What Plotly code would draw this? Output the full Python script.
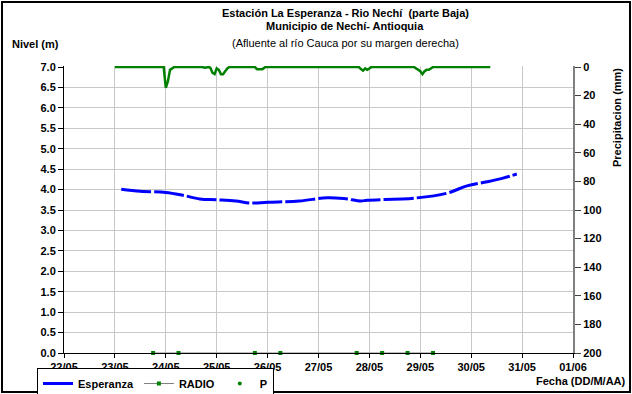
import plotly.graph_objects as go

# ---------------- data ----------------
esp_time = ["2011-05-23 03:00", "2011-05-23 12:00", "2011-05-24 00:00", "2011-05-24 08:00",
            "2011-05-24 16:00", "2011-05-25 00:00", "2011-05-25 09:00", "2011-05-25 16:00",
            "2011-05-26 00:00", "2011-05-26 15:00", "2011-05-27 04:00", "2011-05-27 12:00",
            "2011-05-27 20:00", "2011-05-27 23:00", "2011-05-28 21:00", "2011-05-29 12:30",
            "2011-05-29 22:00", "2011-05-30 07:30", "2011-05-30 15:00", "2011-05-30 21:30"]
esp_level = [4.01, 3.96, 3.93, 3.86, 3.77, 3.75, 3.72, 3.67, 3.69, 3.72, 3.80, 3.78,
             3.72, 3.74, 3.79, 3.91, 4.09, 4.19, 4.28, 4.38]

radio_time = ["2011-05-23 18:00", "2011-05-24 06:00", "2011-05-25 18:00", "2011-05-26 06:00",
              "2011-05-27 18:00", "2011-05-28 06:00", "2011-05-28 18:00", "2011-05-29 06:00"]
radio_val = [0, 0, 0, 0, 0, 0, 0, 0]

p_time = ["2011-05-23 00:00", "2011-05-23 23:00", "2011-05-24 00:00", "2011-05-24 01:00",
          "2011-05-24 02:00", "2011-05-24 03:00", "2011-05-24 04:00", "2011-05-24 17:00",
          "2011-05-24 18:30", "2011-05-24 20:00", "2011-05-24 21:00", "2011-05-24 22:00",
          "2011-05-24 23:00", "2011-05-25 00:00", "2011-05-25 01:00", "2011-05-25 02:00",
          "2011-05-25 03:00", "2011-05-25 04:00", "2011-05-25 05:00", "2011-05-25 06:00",
          "2011-05-25 18:00", "2011-05-25 19:00", "2011-05-25 21:30", "2011-05-25 23:00",
          "2011-05-27 19:00", "2011-05-27 20:00", "2011-05-27 21:00", "2011-05-27 22:00",
          "2011-05-27 23:00", "2011-05-28 00:00", "2011-05-28 01:00", "2011-05-28 21:00",
          "2011-05-28 22:00", "2011-05-28 23:00", "2011-05-29 00:00", "2011-05-29 01:00",
          "2011-05-29 02:00", "2011-05-29 03:00", "2011-05-29 04:00", "2011-05-29 05:00",
          "2011-05-29 06:00", "2011-05-30 09:00"]
p_mm = [0, 0, 14.5, 10, 2, 1, 0, 0,
        0.5, 0, 0.5, 4,
        5, 1, 2, 5,
        5, 3, 1, 0,
        0, 1.5, 1.5, 0,
        0, 1.5, 2.5, 1,
        2, 1, 0, 0,
        1, 2, 3, 5,
        3, 2, 2, 1,
        0, 0]

x_ticks = ["2011-05-22", "2011-05-23", "2011-05-24", "2011-05-25", "2011-05-26", "2011-05-27",
           "2011-05-28", "2011-05-29", "2011-05-30", "2011-05-31", "2011-06-01"]
x_labels = ["22/05", "23/05", "24/05", "25/05", "26/05", "27/05", "28/05", "29/05", "30/05", "31/05", "01/06"]

# ---------------- figure ----------------
W, H = 632, 394
L, R, T, B = 64, 59, 66, 41
PW, PH = W - L - R, H - T - B
FONT = "Liberation Sans, Arial, sans-serif"


def px(x):
    return (x - L) / PW


def py(y):
    return (H - B - y) / PH


fig = go.Figure()

fig.add_trace(go.Scatter(x=esp_time, y=esp_level, name="Esperanza", mode="lines",
                         line=dict(color="#0000ff", width=3, shape="spline", dash="30px,3px")))
fig.add_trace(go.Scatter(x=radio_time, y=radio_val, name="RADIO", mode="lines+markers",
                         line=dict(color="#808080", width=1),
                         marker=dict(color="#008000", size=4, symbol="square"), cliponaxis=False))
fig.add_trace(go.Scatter(x=p_time, y=p_mm, name="P", mode="lines", yaxis="y2",
                         line=dict(color="#008000", width=2.5), showlegend=False))
fig.add_trace(go.Scatter(x=[None], y=[None], name="P", mode="markers", yaxis="y2",
                         marker=dict(color="#008000", size=4)))

axis_font = dict(family=FONT, size=11, color="black", weight="bold")

fig.update_layout(
    width=W, height=H,
    margin=dict(l=L, r=R, t=T, b=B, pad=0, autoexpand=False),
    paper_bgcolor="white", plot_bgcolor="white",
    font=dict(family=FONT, size=11, color="black"),
    xaxis=dict(type="date", range=["2011-05-22", "2011-06-01"], tickvals=x_ticks, ticktext=x_labels,
               showgrid=True, gridcolor="#c8c8c8", gridwidth=1, showline=True, linecolor="black",
               linewidth=1, ticks="outside", ticklen=4, tickcolor="black", tickfont=axis_font,
               zeroline=False, automargin=False),
    yaxis=dict(range=[0, 7.0245], tickvals=[i * 0.5 for i in range(15)],
               ticktext=[f"{i*0.5:.1f}" for i in range(15)],
               showgrid=True, gridcolor="#c8c8c8", gridwidth=1, showline=True, linecolor="black",
               linewidth=1, ticks="outside", ticklen=5, tickcolor="black", tickfont=axis_font,
               zeroline=False, automargin=False),
    yaxis2=dict(overlaying="y", side="right", range=[200, -0.7], tickvals=list(range(0, 201, 20)),
                showgrid=False, showline=True, linecolor="#808080", linewidth=2, ticks="outside",
                ticklen=6, tickcolor="#404040", tickfont=axis_font, zeroline=False, automargin=False),
    legend=dict(orientation="h", xref="container", yref="container",
                x=37 / W, y=1 - 368 / H, xanchor="left", yanchor="top",
                bordercolor="black", borderwidth=1, bgcolor="white",
                font=dict(family=FONT, size=11, color="black", weight="bold"),
                itemwidth=30, tracegroupgap=0),
    showlegend=True,
)

ann = [
    dict(text="<b>Estación La Esperanza - Rio Nechí  (parte Baja)</b>", x=px(345), y=py(13)),
    dict(text="<b>Municipio de Nechí- Antioquia</b>", x=px(345), y=py(26)),
    dict(text="(Afluente al río Cauca por su margen derecha)", x=px(345), y=py(43)),
]
for a in ann:
    fig.add_annotation(xref="paper", yref="paper", showarrow=False, xanchor="center", yanchor="middle",
                       font=dict(family=FONT, size=11, color="black"), **a)

fig.add_annotation(text="<b>Nivel (m)</b>", xref="paper", yref="paper", x=px(10), y=py(44),
                   xanchor="left", yanchor="middle", showarrow=False,
                   font=dict(family=FONT, size=11, color="black"))
fig.add_annotation(text="<b>Precipitacion (mm)</b>", xref="paper", yref="paper", x=px(617), y=py(118),
                   xanchor="center", yanchor="middle", textangle=-90, showarrow=False,
                   font=dict(family=FONT, size=11, color="black"))
fig.add_annotation(text="<b>Fecha (DD/M/AA)</b>", xref="paper", yref="paper", x=px(628), y=py(381),
                   xanchor="right", yanchor="middle", showarrow=False,
                   font=dict(family=FONT, size=11, color="black"))

# outer frame
fig.add_shape(type="rect", xref="paper", yref="paper", x0=px(2), x1=px(630), y0=py(392), y1=py(2),
              line=dict(color="black", width=2), layer="above")

fig.write_html("out.html", config={"displayModeBar": False},
               post_script="document.body.style.margin='0';document.body.style.padding='0';"
                           "document.documentElement.style.overflow='hidden';")
